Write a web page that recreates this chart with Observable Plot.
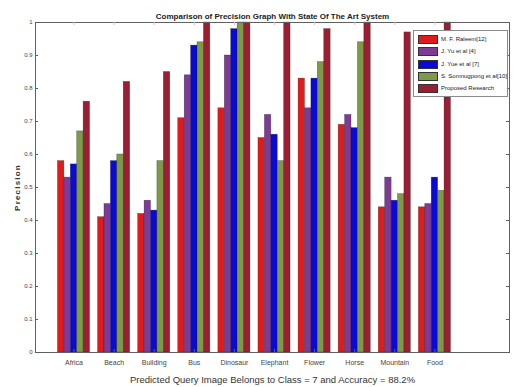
<!DOCTYPE html>
<html><head><meta charset="utf-8">
<script src="https://cdn.jsdelivr.net/npm/d3@7"></script>
<script src="https://cdn.jsdelivr.net/npm/@observablehq/plot@0.6"></script>
<style>
body{margin:0;background:#fff;font-family:"Liberation Sans",Arial,sans-serif;}
#wrap{position:relative;width:513px;height:387px;overflow:hidden;}
#wrap svg{display:block;}
.legend{position:absolute;left:413px;top:30px;width:93px;height:65px;border:1px solid #8a8a8a;background:#fff;box-sizing:content-box;}
.legend .row{position:absolute;left:4px;height:9px;display:flex;align-items:center;}
.legend .sw{width:18px;height:7px;border:1px solid #333;margin-right:3px;}
.legend .lab{font-size:6px;color:#222;white-space:nowrap;line-height:9px;}
svg [aria-label="y-axis label"] text{font-weight:bold;font-size:8px;letter-spacing:1.2px;fill:#333;}
svg [aria-label="x-axis label"] text{font-size:9.5px;fill:#333;}
</style>
</head><body><div id="wrap"></div>
<script>
const titleText = "Comparison of Precision Graph With State Of The Art System";
const xLabel = "Predicted Query Image Belongs to Class = 7 and Accuracy = 88.2%";
const yLabel = "Precision";
const categories = ["Africa","Beach","Building","Bus","Dinosaur","Elephant","Flower","Horse","Mountain","Food"];
const seriesNames = ["M. F. Raleem[12]","J. Yu et al [4]","J. Yue et al [7]","S. Somnugpong et al[10]","Proposed Research"];
const seriesColors = ["#e01b1b","#7d3a96","#0a0ad8","#7c9a48","#9b1f33"];
const raleem     = [0.58,0.41,0.42,0.71,0.74,0.65,0.83,0.69,0.44,0.44];
const yu         = [0.53,0.45,0.46,0.84,0.90,0.72,0.74,0.72,0.53,0.45];
const yue        = [0.57,0.58,0.43,0.93,0.98,0.66,0.83,0.68,0.46,0.53];
const somnugpong = [0.67,0.60,0.58,0.94,1.00,0.58,0.88,0.94,0.48,0.49];
const proposed   = [0.76,0.82,0.85,1.00,1.00,1.00,0.98,1.00,0.97,1.00];
const yTicks = [0,0.1,0.2,0.3,0.4,0.5,0.6,0.7,0.8,0.9,1];
const yTickLabels = ["0","0.1","0.2","0.3","0.4","0.5","0.6","0.7","0.8","0.9","1"];

const seriesValues = [raleem, yu, yue, somnugpong, proposed];
const nS = seriesNames.length;
const groupWidth = 0.8, barW = groupWidth / nS;
const table = categories.flatMap((c, i) => seriesNames.map((s, j) => ({
  category: c, pos: i + 1, series: s, j, value: seriesValues[j][i]
})));
const catPos = categories.map((c, i) => i + 1);

const W = 513, H = 387, mL = 35, mR = 4, mT = 22, mB = 35;
const plotW = W - mL - mR, plotH = H - mT - mB;
const axisColor = "#606060";

const chart = Plot.plot({
  width: W, height: H,
  marginLeft: mL, marginRight: mR, marginTop: mT, marginBottom: mB,
  style: {background: "#fff", fontFamily: "Liberation Sans, Arial, sans-serif", color: "#333"},
  x: {type: "linear", domain: [0.04, 11.86]},
  y: {domain: [0, 1]},
  color: {domain: seriesNames, range: seriesColors},
  marks: [
    Plot.rectY(table, {
      x1: d => d.pos + (d.j - nS / 2) * barW,
      x2: d => d.pos + (d.j + 1 - nS / 2) * barW,
      y1: 0, y2: "value", fill: "series",
      stroke: "#1a1a1a", strokeOpacity: 0.55, strokeWidth: 0.5
    }),
    Plot.frame({stroke: axisColor, strokeWidth: 1}),
    Plot.tickY(yTicks, {y: d => d, insetRight: plotW - 3, stroke: axisColor}),
    Plot.tickY(yTicks, {y: d => d, insetLeft: plotW - 3, stroke: axisColor}),
    Plot.tickX(catPos, {x: d => d, insetTop: plotH - 3, stroke: axisColor}),
    Plot.tickX(catPos, {x: d => d, insetBottom: plotH - 3, stroke: "#c8c8c8"}),
    Plot.axisY({ticks: yTicks, tickFormat: (d, i) => yTickLabels[i], tickSize: 0, tickPadding: 3,
      fontSize: 6, label: yLabel, labelArrow: "none", labelAnchor: "center", labelOffset: 21, color: "#444"}),
    Plot.axisX({ticks: catPos, tickFormat: d => categories[d - 1], tickSize: 0, tickPadding: 8,
      fontSize: 7, label: xLabel, labelArrow: "none", labelAnchor: "center", labelOffset: 30, color: "#444"}),
    Plot.text([titleText], {frameAnchor: "top", dy: -9, fontWeight: "bold", fontSize: 8, fill: "#222"})
  ]
});
const wrap = document.getElementById("wrap");
wrap.appendChild(chart);

// Legend (overlay inside the plot box, top right)
const legend = document.createElement("div");
legend.className = "legend";
seriesNames.forEach((s, j) => {
  const row = document.createElement("div");
  row.className = "row";
  row.style.top = (4 + j * 12.3) + "px";
  const sw = document.createElement("div");
  sw.className = "sw";
  sw.style.background = seriesColors[j];
  const lab = document.createElement("span");
  lab.className = "lab";
  lab.textContent = s;
  row.appendChild(sw); row.appendChild(lab);
  legend.appendChild(row);
});
wrap.appendChild(legend);
</script>
</body></html>
